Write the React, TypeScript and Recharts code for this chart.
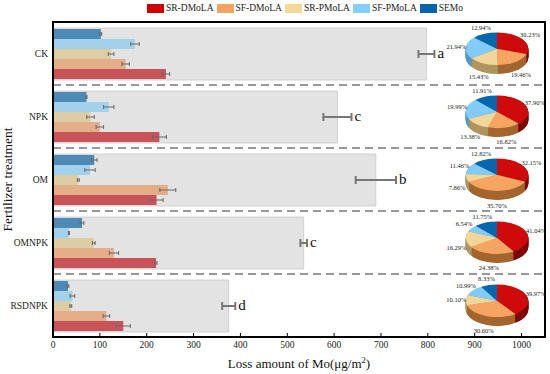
import React from 'react';
import {
  ComposedChart, Bar, XAxis, YAxis, ErrorBar, LabelList, ReferenceLine, ReferenceArea,
  Legend, PieChart, Pie, Cell,
} from 'recharts';

// ---------- data ----------
const categories = ['CK', 'NPK', 'OM', 'OMNPK', 'RSDNPK'];
const seriesNames = ['SR-DMoLA', 'SF-DMoLA', 'SR-PMoLA', 'SF-PMoLA', 'SEMo'];

const srDMoLA = [241, 227, 221, 220, 150];
const sfDMoLA = [155, 100, 245, 130, 114];
const srPMoLA = [124, 80, 54, 87, 38];
const sfPMoLA = [175, 119, 79, 34, 41.5];
const seMo = [102, 71.5, 88, 62, 32];

const srDMoLAErr = [8, 15, 14, 2, 15];
const sfDMoLAErr = [8, 8, 17, 10, 7];
const srPMoLAErr = [6, 8, 2, 3, 2];
const sfPMoLAErr = [9, 11, 11, 1, 5];
const seMoErr = [2, 1, 6, 4, 2];

const totals = [797, 607, 689, 535, 375];
const totalErr = [17, 30, 43, 7, 14];
const letters = ['a', 'c', 'b', 'c', 'd'];

// pie percentages, order: SR-DMoLA, SF-DMoLA, SR-PMoLA, SF-PMoLA, SEMo
const pieCK = [30.23, 19.46, 15.43, 21.94, 12.94];
const pieNPK = [37.9, 16.82, 13.38, 19.99, 11.91];
const pieOM = [32.15, 35.7, 7.86, 11.46, 12.82];
const pieOMNPK = [41.04, 24.38, 16.29, 6.54, 11.75];
const pieRSDNPK = [39.97, 30.6, 10.1, 10.99, 8.33];
const pies = [pieCK, pieNPK, pieOM, pieOMNPK, pieRSDNPK];

const xTicks = [0, 100, 200, 300, 400, 500, 600, 700, 800, 900, 1000];

// ---------- styles ----------
const legendColors = ['#cc0000', '#f4a261', '#f2d89b', '#86cdfa', '#0765ad'];
const barColors = ['#c8545a', '#e3ae88', '#dccda5', '#a3d1ec', '#4e8ab6'];
const pieTop = ['#cf0a0a', '#f5a462', '#f2d598', '#82cbf7', '#0866ad'];
const pieSide = ['#7e0a0a', '#a4662f', '#b0955f', '#5a98c2', '#034a82'];

const FONT = '"Liberation Serif", "Times New Roman", serif';
const W = 550;
const H = 374;
const PLOT_L = 53;
const PLOT_T = 22;
const PLOT_B = 337;
const BAND = (PLOT_B - PLOT_T) / categories.length;

const seriesData: Record<string, number[]> = {
  'SR-DMoLA': srDMoLA, 'SF-DMoLA': sfDMoLA, 'SR-PMoLA': srPMoLA, 'SF-PMoLA': sfPMoLA, SEMo: seMo,
};
const seriesErr: Record<string, number[]> = {
  'SR-DMoLA': srDMoLAErr, 'SF-DMoLA': sfDMoLAErr, 'SR-PMoLA': srPMoLAErr, 'SF-PMoLA': sfPMoLAErr, SEMo: seMoErr,
};

const data = categories.map((name, i) => {
  const row: Record<string, any> = { name, total: totals[i], totalErr: totalErr[i], letter: letters[i] };
  seriesNames.forEach((s) => {
    row[s] = seriesData[s][i];
    row[s + '_err'] = seriesErr[s][i];
  });
  return row;
});

// bars drawn top to bottom inside each category
const barOrder = ['SEMo', 'SF-PMoLA', 'SR-PMoLA', 'SF-DMoLA', 'SR-DMoLA'];

const LetterLabel = (props: any) => {
  const { x, y, width, height, index, value } = props;
  const pxPerUnit = width / totals[index];
  const ex = x + width + totalErr[index] * pxPerUnit + 3;
  return (
    <text x={ex} y={y + height / 2 + 1} fontSize={15} fontFamily={FONT} fill="#111" dominantBaseline="middle">
      {value}
    </text>
  );
};

const LegendContent = () => (
  <div style={{ display: 'flex', alignItems: 'center', fontFamily: FONT, fontSize: 9.5, color: '#222', whiteSpace: 'nowrap' }}>
    {seriesNames.map((s, i) => (
      <div key={s} style={{ display: 'flex', alignItems: 'center', marginRight: 3 }}>
        <div style={{ width: 17, height: 9, background: legendColors[i], marginRight: 2 }} />
        <span>{s}</span>
      </div>
    ))}
  </div>
);

const XLabel = (props: any) => {
  const { viewBox } = props;
  const cx = viewBox.x + viewBox.width / 2;
  return (
    <text x={cx} y={viewBox.y + 31} textAnchor="middle" fontSize={13} fontFamily={FONT} fill="#111">
      Loss amount of Mo(μg/m<tspan dy={-5} fontSize={8.5}>2</tspan><tspan dy={5}>)</tspan>
    </text>
  );
};

const YLabel = (props: any) => {
  const { viewBox } = props;
  const cy = viewBox.y + viewBox.height / 2;
  const x = 12;
  return (
    <text x={x} y={cy} transform={`rotate(-90 ${x} ${cy})`} textAnchor="middle" fontSize={13.5} fontFamily={FONT} fill="#111">
      Fertilizer treatment
    </text>
  );
};

const RX = 31.3;
const SCALE = 0.52;
const DEPTH_U = 17; // unscaled depth
const DEPTH = DEPTH_U * SCALE;
const PIE_CX = 497;

function Pie3D({ values, pcy }: { values: number[]; pcy: number }) {
  const rows = values.map((v, i) => ({ name: seriesNames[i], v }));
  const SW = 80;
  const SH = 110;
  const layers: number[] = [];
  for (let d = DEPTH_U; d >= 1; d -= 1) layers.push(d);
  const LW = 130;
  const LH = 90;
  const RAD = Math.PI / 180;
  const renderLabel = (p: any) => {
    const a = -p.midAngle * RAD;
    const c = Math.cos(a);
    const s = Math.sin(a);
    const x = p.cx + 1.3 * RX * c;
    const y = p.cy + 1.38 * RX * SCALE * s + (s > 0 ? DEPTH : 0);
    return (
      <text key={p.index} x={x} y={y} textAnchor="middle" dominantBaseline="middle" fontSize={6.5} fontFamily={FONT} fill="#222">
        {values[p.index].toFixed(2)}%
      </text>
    );
  };
  return (
    <>
      <div style={{ position: 'absolute', left: PIE_CX - SW / 2, top: pcy - (SW / 2) * SCALE, width: SW, height: SH, transform: `scaleY(${SCALE})`, transformOrigin: '0 0' }}>
        <PieChart width={SW} height={SH} margin={{ top: 0, right: 0, bottom: 0, left: 0 }}>
          {layers.map((d) => (
            <Pie key={d} data={rows} dataKey="v" cx={SW / 2} cy={SW / 2 + d} outerRadius={RX} startAngle={90} endAngle={-270} stroke="none" isAnimationActive={false}>
              {rows.map((r, i) => <Cell key={i} fill={pieSide[i]} />)}
            </Pie>
          ))}
          <Pie data={rows} dataKey="v" cx={SW / 2} cy={SW / 2} outerRadius={RX} startAngle={90} endAngle={-270} stroke="none" isAnimationActive={false}>
            {rows.map((r, i) => <Cell key={i} fill={pieTop[i]} />)}
          </Pie>
        </PieChart>
      </div>
      <div style={{ position: 'absolute', left: PIE_CX - LW / 2, top: pcy - LH / 2, width: LW, height: LH }}>
        <PieChart width={LW} height={LH} margin={{ top: 0, right: 0, bottom: 0, left: 0 }}>
          <Pie data={rows} dataKey="v" cx={LW / 2} cy={LH / 2} outerRadius={RX} startAngle={90} endAngle={-270} fill="none" fillOpacity={0} stroke="none" label={renderLabel} labelLine={false} isAnimationActive={false} />
        </PieChart>
      </div>
    </>
  );
}

export default function App() {
  return (
    <div style={{ position: 'absolute', left: 0, top: 0, width: W, height: H, background: '#fff', fontFamily: FONT }}>
      <ComposedChart
        width={W}
        height={H}
        data={data}
        layout="vertical"
        margin={{ top: PLOT_T, right: 5, bottom: 0, left: 0 }}
        barGap={0}
      >
        <XAxis
          type="number"
          domain={[0, 1050]}
          ticks={xTicks}
          height={37}
          tickSize={-4}
          tickMargin={8}
          tick={{ fontSize: 9.5, fill: '#222', fontFamily: FONT }}
          tickLine={{ stroke: '#000', strokeWidth: 1 }}
          axisLine={{ stroke: '#000', strokeWidth: 2 }}
          label={<XLabel />}
        />
        <YAxis
          yAxisId="main"
          type="category"
          dataKey="name"
          width={PLOT_L}
          tickLine={false}
          tickSize={0}
          tickMargin={5}
          tick={{ fontSize: 9.5, fill: '#222', fontFamily: FONT }}
          axisLine={{ stroke: '#000', strokeWidth: 2 }}
          label={<YLabel />}
        />
        <YAxis yAxisId="bg" type="category" dataKey="name" orientation="right" width={0} hide />
        <Bar yAxisId="bg" dataKey="total" barSize={52} fill="#e3e3e3" stroke="#c9c9c9" strokeWidth={0.8} isAnimationActive={false}>
          <ErrorBar dataKey="totalErr" direction="x" width={4} stroke="#777" strokeWidth={2} />
          <LabelList dataKey="letter" content={<LetterLabel />} />
        </Bar>
        {barOrder.map((s) => {
          const ci = seriesNames.indexOf(s);
          return (
            <Bar key={s} yAxisId="main" dataKey={s} barSize={10} fill={barColors[ci]} isAnimationActive={false}>
              <ErrorBar dataKey={s + '_err'} direction="x" width={2} stroke="#666" strokeWidth={1} />
            </Bar>
          );
        })}
        {categories.slice(1).map((c) => (
          <ReferenceLine key={c} yAxisId="main" y={c} position="start" stroke="#777" strokeWidth={1.5} strokeDasharray="8 5" />
        ))}
        <ReferenceArea yAxisId="main" x1={0} x2={1050} y1={categories[0]} y2={categories[categories.length - 1]} fill="none" stroke="#000" strokeWidth={2} ifOverflow="visible" />
        <Legend
          layout="horizontal"
          verticalAlign="middle"
          align="center"
          content={<LegendContent />}
          wrapperStyle={{ position: 'absolute', left: 147, top: 3, width: 'auto', height: 12 }}
        />
      </ComposedChart>
      {pies.map((vals, i) => (
        <Pie3D key={i} values={vals} pcy={PLOT_T + (i + 0.5) * BAND - 5} />
      ))}
    </div>
  );
}
